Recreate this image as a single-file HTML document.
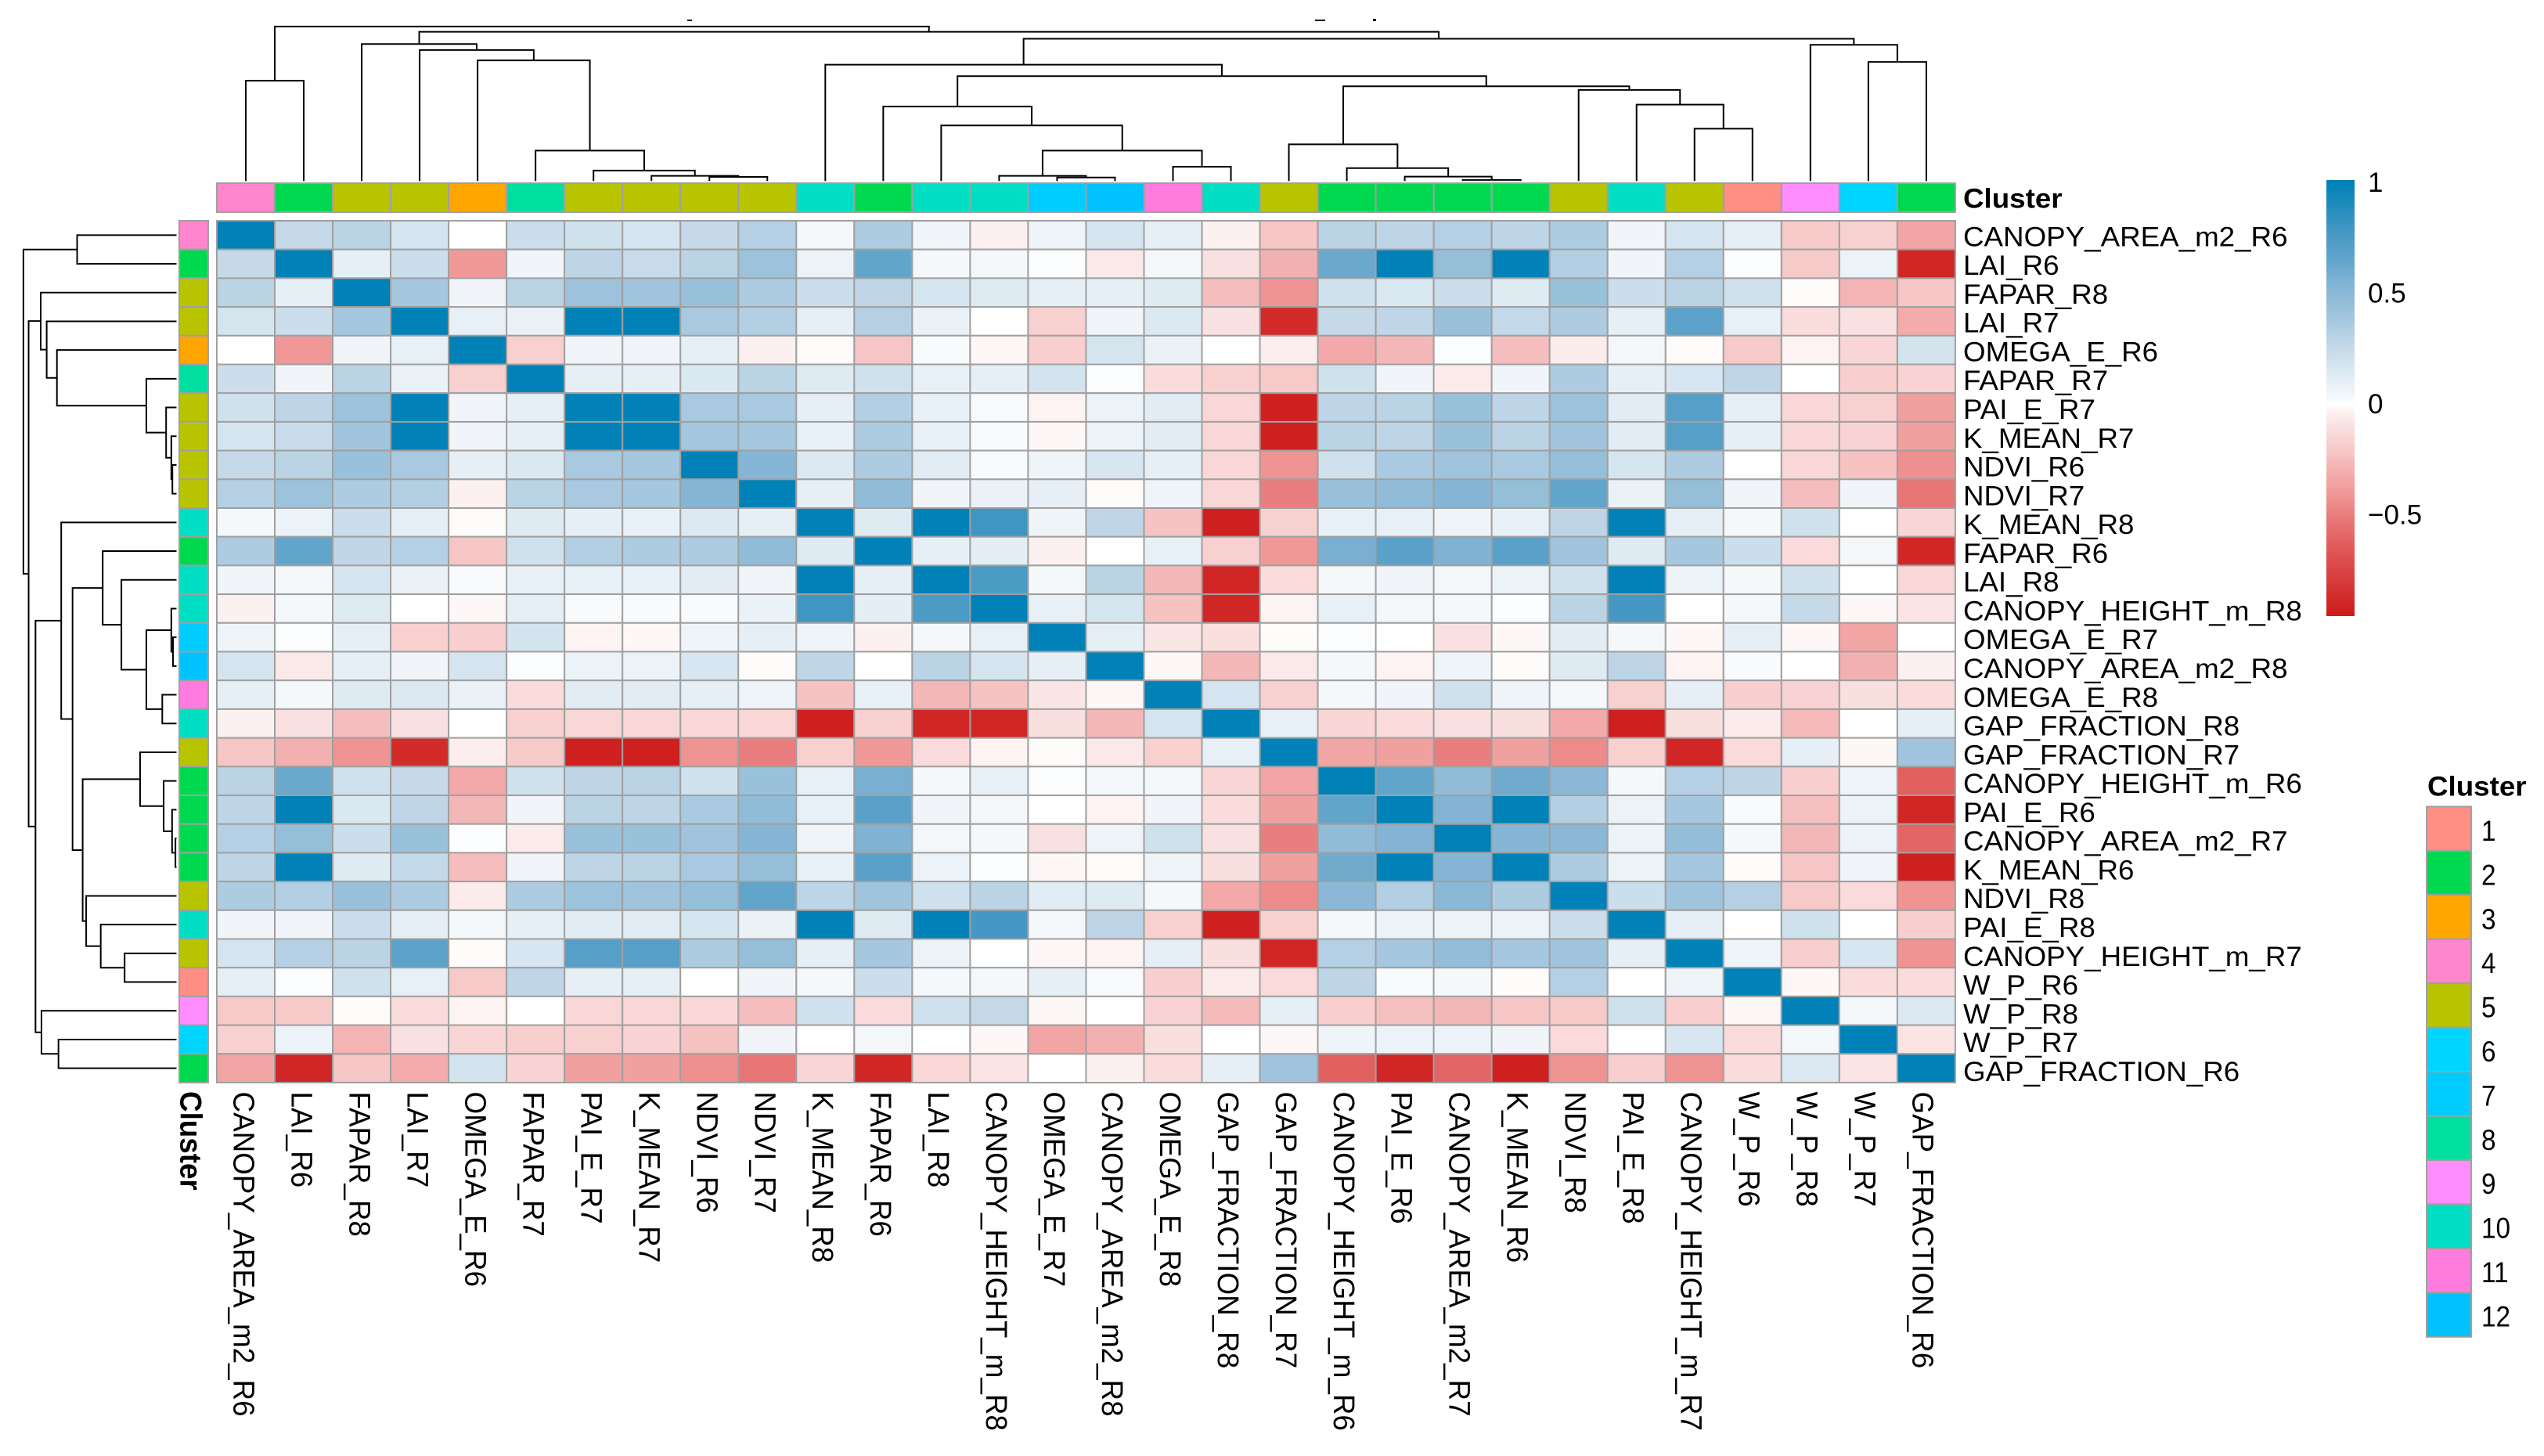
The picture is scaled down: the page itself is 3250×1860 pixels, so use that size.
<!DOCTYPE html>
<html lang="en">
<head>
<meta charset="utf-8">
<title>Clustered correlation heatmap</title>
<style>
html,body{margin:0;padding:0;background:#fff;width:3250px;height:1860px;overflow:hidden}
svg{display:block;font-family:"Liberation Sans",Arial,sans-serif}
</style>
</head>
<body>
<svg id="chart" xmlns="http://www.w3.org/2000/svg" width="3250" height="1860" viewBox="0 0 3250 1860">
  <rect width="3250" height="1860" fill="#ffffff"/>
  <defs><linearGradient id="barGradient" x1="0" y1="0" x2="0" y2="1"></linearGradient></defs>
  <g id="col-dendrogram" fill="none" stroke="#000" stroke-width="2"></g>
  <g id="row-dendrogram" fill="none" stroke="#000" stroke-width="2"></g>
  <g id="col-annotation"></g>
  <g id="row-annotation"></g>
  <g id="heatmap"></g>
  <g id="row-labels"></g>
  <g id="col-labels"></g>
  <g id="colorbar"></g>
  <g id="cluster-legend"></g>
  <text transform="translate(2508,265.5) scale(1.05,1)" font-size="35" font-weight="700">Cluster</text>
  <text transform="translate(230.5,1394) scale(1.05,1) rotate(90)" font-size="36.8" font-weight="700">Cluster</text>
  <rect x="878" y="25" width="6" height="2" fill="#000"/>
  <rect x="1680" y="25" width="13" height="2" fill="#000"/>
  <rect x="1754" y="24" width="4" height="3" fill="#000"/>
</svg>
<script>
const variables = ["CANOPY_AREA_m2_R6","LAI_R6","FAPAR_R8","LAI_R7","OMEGA_E_R6","FAPAR_R7","PAI_E_R7","K_MEAN_R7","NDVI_R6","NDVI_R7","K_MEAN_R8","FAPAR_R6","LAI_R8","CANOPY_HEIGHT_m_R8","OMEGA_E_R7","CANOPY_AREA_m2_R8","OMEGA_E_R8","GAP_FRACTION_R8","GAP_FRACTION_R7","CANOPY_HEIGHT_m_R6","PAI_E_R6","CANOPY_AREA_m2_R7","K_MEAN_R6","NDVI_R8","PAI_E_R8","CANOPY_HEIGHT_m_R7","W_P_R6","W_P_R8","W_P_R7","GAP_FRACTION_R6"];
const clusters = [4,2,5,5,3,8,5,5,5,5,10,2,10,10,7,12,11,10,5,2,2,2,2,5,10,5,1,9,6,2];
const clusterIds = [1,2,3,4,5,6,7,8,9,10,11,12];
const clusterColors = ["#FF8E85","#00D94F","#FFA500","#FF85CC","#B8C400","#00D5FF","#00CCFF","#00DFA0","#FF8DFF","#00DFC4","#FF7BDE","#00C2FF"];
const colorbarTicks = [1,0.5,0,-0.5];
const colorbarTickLabels = ["1","0.5","0","\u22120.5"];
const scaleValues = [1,.78,.68,.62,.55,.45,.38,.32,.25,.17,.1,.03,0,-.03,-.08,-.15,-.22,-.28,-.35,-.42,-.5,-.62,-.88,-.96];
const scaleColors = ["#0081B8","#4598C3","#5AA1CA","#6AA8CC","#80B2D3","#95BED9","#A5C7DF","#B5D0E4","#C5D9E9","#D5E5F0","#E6EFF6","#F5F8FB","#FFFFFF","#FDF3F3","#FBE6E6","#F9D5D5","#F6C5C5","#F4B4B4","#F2A5A5","#EF9393","#EA7D7D","#E26060","#D32A2A","#CC1A1A"];
const mergeTree = [1.0,[.649,0,1],[.966,[.887,2,[.848,3,[.781,4,[.197,5,[.068,6,[.034,7,[.027,8,9]]]]]]],[.921,[.753,10,[.679,[.482,11,[.36,12,[.197,[.034,13,[.023,14,15]],[.093,16,17]]]],[.613,[.238,18,[.084,19,[.029,20,[.007,21,22]]]],[.59,23,[.495,24,[.339,25,26]]]]]],[.882,27,[.771,28,29]]]]];
const upperTriangle = [
[1,.25,.3,.17,0,.22,.2,.17,.25,.32,.03,.35,.05,-.04,.06,.17,.1,-.04,-.22,.3,.28,.32,.28,.35,.05,.17,.1,-.2,-.17,-.35],
[1,.1,.22,-.4,.05,.28,.24,.3,.42,.07,.65,.03,.03,.01,-.07,.03,-.1,-.3,.62,1,.45,1,.33,.05,.32,.01,-.2,.07,-.9],
[1,.38,.05,.3,.42,.4,.43,.35,.22,.27,.17,.13,.1,.1,.13,-.25,-.42,.2,.15,.22,.13,.43,.22,.3,.2,-.01,-.28,-.22],
[1,.09,.08,1,1,.37,.33,.1,.32,.08,0,-.17,.05,.14,-.1,-.88,.25,.27,.43,.26,.35,.1,.67,.09,-.12,-.1,-.32],
[1,-.17,.05,.05,.1,-.04,-.01,-.22,.02,-.02,-.18,.17,.08,0,-.05,-.33,-.27,.01,-.25,-.06,.03,-.01,-.2,-.03,-.15,.18],
[1,.1,.1,.15,.3,.13,.2,.09,.1,.18,.01,-.12,-.17,-.2,.2,.05,-.06,.05,.35,.1,.16,.27,0,-.18,-.16],
[1,1,.37,.37,.1,.33,.09,.02,-.03,.07,.12,-.14,-.93,.28,.3,.43,.28,.42,.12,.7,.1,-.14,-.17,-.37],
[1,.38,.38,.09,.35,.09,.02,-.02,.07,.12,-.14,-.93,.3,.28,.43,.3,.4,.12,.7,.1,-.14,-.16,-.37],
[1,.52,.14,.35,.12,.02,.06,.16,.1,-.14,-.42,.2,.36,.4,.37,.45,.17,.35,0,-.14,-.23,-.43],
[1,.1,.47,.05,.08,.1,-.01,.06,-.14,-.5,.43,.47,.52,.45,.65,.08,.45,.05,-.25,.05,-.53],
[1,.13,1,.8,.06,.27,-.23,-.93,-.17,.09,.09,.06,.09,.28,1,.1,.03,.2,0,-.15],
[1,.1,.11,-.04,0,.09,-.17,-.4,.57,.68,.55,.68,.4,.13,.38,.22,-.13,.04,-.9],
[1,.75,.03,.3,-.27,-.9,-.13,.03,.05,.04,.07,.2,1,.07,.03,.2,0,-.14],
[1,.09,.17,-.23,-.9,-.03,.09,.04,.03,.01,.3,.78,0,.03,.25,-.02,-.09],
[1,.1,-.08,-.11,-.01,.01,0,-.1,-.02,.12,.03,-.02,.1,-.02,-.35,0],
[1,-.02,-.27,-.07,.03,-.03,.06,-.01,.13,.29,-.03,.02,0,-.3,-.04],
[1,.17,-.17,.03,.05,.2,.06,.03,-.17,.1,-.18,-.16,-.11,-.12],
[1,.09,-.15,-.12,-.1,-.11,-.33,-.93,-.11,-.06,-.26,0,.1],
[1,-.35,-.37,-.5,-.37,-.45,-.17,-.9,-.13,.1,-.02,.4],
[1,.65,.47,.6,.5,.03,.32,.28,-.18,.06,-.62],
[1,.53,1,.33,.07,.38,.02,-.24,.07,-.9],
[1,.52,.5,.07,.46,.03,-.27,.07,-.6],
[1,.35,.07,.38,-.01,-.22,.05,-.93],
[1,.22,.4,.32,-.2,-.13,-.42],
[1,.1,0,.2,0,-.18],
[1,.06,-.18,.16,-.42],
[1,-.02,-.12,-.12],
[1,.04,.14],
[1,-.09],
[1]
];

const NS = "http://www.w3.org/2000/svg";
const cellW = 74.03, cellH = 36.7, heatLeft = 277, heatTop = 282;
const colX = i => heatLeft + i * cellW;
const rowY = j => heatTop + j * cellH;
const colHeight = h => 231.3 - 197.4 * h;
const rowHeight = h => 225.5 - 195.6 * h;
const barY = v => 516 - 283 * v;

function make(tag, parentId, attrs) {
  const el = document.createElementNS(NS, tag);
  for (const k in attrs) el.setAttribute(k, attrs[k]);
  document.getElementById(parentId).appendChild(el);
  return el;
}
function hexToRgb(h) { return [1,3,5].map(i => parseInt(h.substr(i,2),16)); }
function colorOf(v) {
  if (v >= scaleValues[0]) return scaleColors[0];
  const last = scaleValues.length - 1;
  if (v <= scaleValues[last]) return scaleColors[last];
  for (let i = 0; i < last; i++) {
    if (v <= scaleValues[i] && v >= scaleValues[i+1]) {
      const t = (scaleValues[i] - v) / (scaleValues[i] - scaleValues[i+1]);
      const a = hexToRgb(scaleColors[i]), b = hexToRgb(scaleColors[i+1]);
      return "rgb(" + a.map((c,k) => Math.round(c + (b[k]-c)*t)).join(",") + ")";
    }
  }
  return "#fff";
}
function valueAt(r, c) {
  const a = Math.min(r,c), b = Math.max(r,c);
  return upperTriangle[a][b-a];
}

/* heatmap cells */
variables.forEach((rowName, r) => {
  variables.forEach((colName, c) => {
    const cell = make("rect", "heatmap", {x: colX(c), y: rowY(r), width: cellW, height: cellH, fill: colorOf(valueAt(r,c)), stroke: "#a0a0a0", "stroke-width": 2});
    
    
  });
});

/* annotations */
clusters.forEach((cl, i) => {
  const fill = clusterColors[clusterIds.indexOf(cl)];
  const top = make("rect", "col-annotation", {x: colX(i), y: 234, width: cellW, height: 37, fill: fill, stroke: "#a0a0a0", "stroke-width": 2});
  
  
  const left = make("rect", "row-annotation", {x: 229, y: rowY(i), width: 37, height: cellH, fill: fill, stroke: "#a0a0a0", "stroke-width": 2});
  
  
});

/* dendrograms share one merge tree */
function drawTree(node, groupId, name) {
  if (typeof node === "number") return {pos: node + 0.5, h: 0};
  const a = drawTree(node[1], groupId, name), b = drawTree(node[2], groupId, name), h = node[0];
  let d;
  if (groupId === "col-dendrogram") {
    const xa = heatLeft + a.pos * cellW, xb = heatLeft + b.pos * cellW;
    d = "M" + xa + " " + colHeight(a.h) + "V" + colHeight(h) + "H" + xb + "V" + colHeight(b.h);
  } else {
    const ya = heatTop + a.pos * cellH, yb = heatTop + b.pos * cellH;
    d = "M" + rowHeight(a.h) + " " + ya + "H" + rowHeight(h) + "V" + yb + "H" + rowHeight(b.h);
  }
  const p = make("path", groupId, {d: d});
  
  
  return {pos: (a.pos + b.pos) / 2, h: h};
}
drawTree(mergeTree, "col-dendrogram", "column-dendrogram");
drawTree(mergeTree, "row-dendrogram", "row-dendrogram");

/* labels */
variables.forEach((name, i) => {
  const rowText = make("text", "row-labels", {transform: "translate(2508," + (314.3 + i*36.78) + ") scale(1.05,1)", "font-size": 35});
  rowText.textContent = name;
  
  
  const colText = make("text", "col-labels", {transform: "translate(" + (298.7 + i*73.95) + ",1394.5) scale(1.03,1) rotate(90)", "font-size": 36.8});
  colText.textContent = name;
  
  
});

/* colour bar */
const gradient = document.getElementById("barGradient");
const barTop = 230, barBottom = 787;
scaleValues.forEach((v, i) => {
  const stop = document.createElementNS(NS, "stop");
  stop.setAttribute("offset", Math.min(1, Math.max(0, (barY(v) - barTop) / (barBottom - barTop))));
  stop.setAttribute("stop-color", scaleColors[i]);
  gradient.appendChild(stop);
});
const bar = make("rect", "colorbar", {x: 2972, y: barTop, width: 36, height: barBottom - barTop, fill: "url(#barGradient)"});


colorbarTicks.forEach((v, i) => {
  const t = make("text", "colorbar", {x: 3025, y: barY(v) + 12, "font-size": 35});
  t.textContent = colorbarTickLabels[i];
  
  
});

/* cluster legend */
const legendTitle = make("text", "cluster-legend", {transform: "translate(3101,1016.5) scale(1.05,1)", "font-size": 35, "font-weight": 700});
legendTitle.textContent = "Cluster";


clusterIds.forEach((id, i) => {
  const swatch = make("rect", "cluster-legend", {x: 3100, y: 1030.4 + i*56.45, width: 57, height: 56.45, fill: clusterColors[i], stroke: "#a0a0a0", "stroke-width": 2});
  
  
  const label = make("text", "cluster-legend", {transform: "translate(3170," + (1074 + i*56.4) + ") scale(.9,1)", "font-size": 37});
  label.textContent = String(id);
  
  
});
</script>
</body>
</html>
